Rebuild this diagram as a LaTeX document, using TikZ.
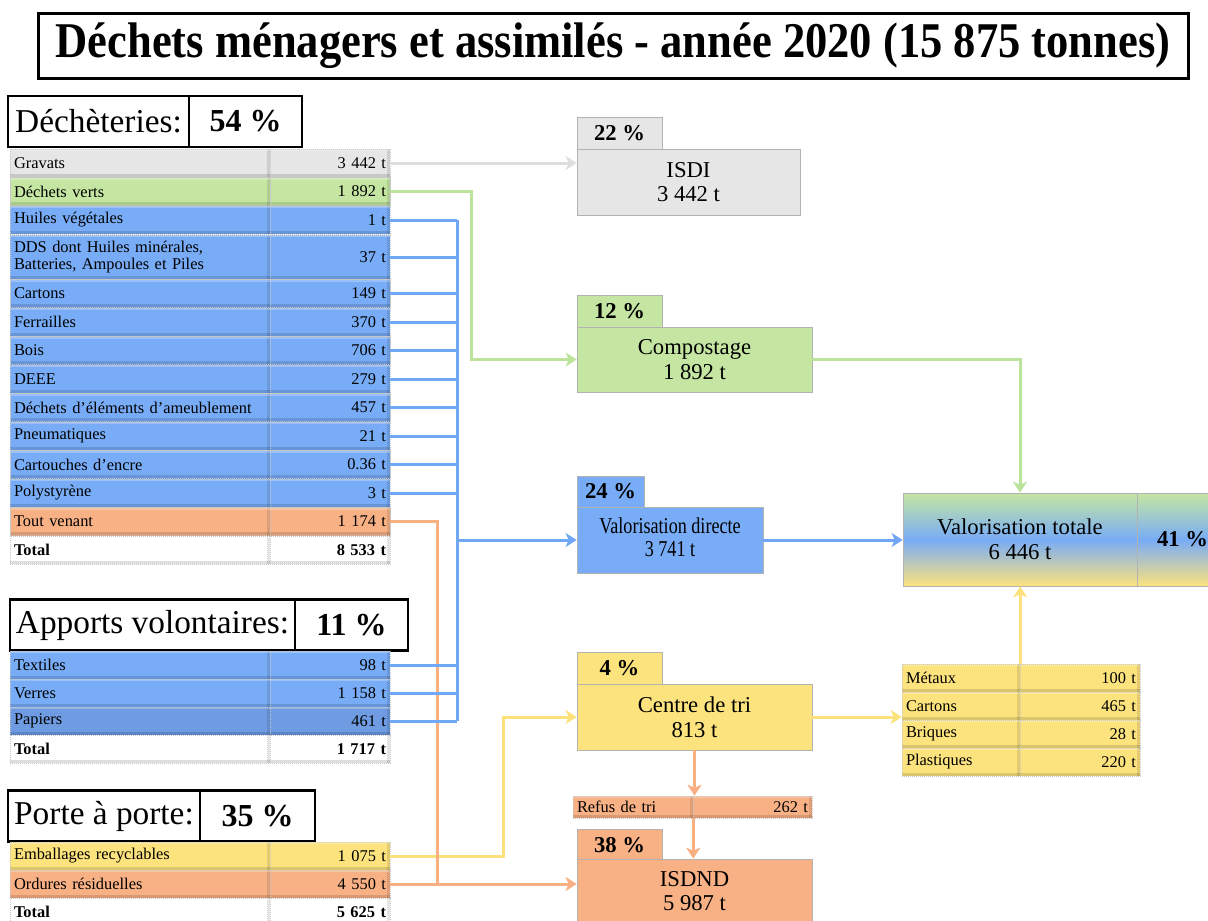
\documentclass[tikz,border=0pt]{standalone}
\usepackage{fontspec}
\setmainfont{Liberation Serif}
\usetikzlibrary{arrows.meta}
\newdimen\px \px=0.75pt
\definecolor{cgray}{HTML}{E6E6E6}
\definecolor{cgreen}{HTML}{C5E6A2}
\definecolor{cblue}{HTML}{78ACF6}
\definecolor{cblued}{HTML}{6E9BE2}
\definecolor{corange}{HTML}{F8B185}
\definecolor{cyellow}{HTML}{FCE37E}
\definecolor{lgray}{HTML}{DEDEDE}
\definecolor{lgreen}{HTML}{BCE39A}
\definecolor{lblue}{HTML}{70A8F5}
\definecolor{lorange}{HTML}{F8B083}
\definecolor{lyellow}{HTML}{FDE27C}
\newcommand\tabf{\fontsize{12.3}{12.3}\selectfont}
\newcommand\boxf{\fontsize{17}{18.5}\selectfont}
\newcommand\hdrf{\fontsize{25}{27}\selectfont}
\newcommand\hdrpf{\fontsize{24}{27}\selectfont\bfseries}
\newcommand\pctf{\fontsize{17}{19}\selectfont\bfseries}
\newcommand\trow[9]{%
 \pgfmathsetmacro\wL{#3-#2}\pgfmathsetmacro\wR{#4-#3}%
 \pgfmathsetmacro\tL{#3-#2-8}\pgfmathsetmacro\tR{#4-#3-8}%
 \node[cell, fill=#7, minimum width=\wL\px, minimum height=#6\px, text width=\tL\px, align=left] (#1L) at ({(#2+#3)/2},#5+1) {#8};
 \node[cell, fill=#7, minimum width=\wR\px, minimum height=#6\px, text width=\tR\px, align=right] (#1R) at ({(#3+#4)/2},#5+1) {#9};}
\begin{document}
\begin{tikzpicture}[x=0.75pt,y=-0.75pt,
 cell/.style={rectangle, inner xsep=3pt, inner ysep=0pt, font=\tabf, draw=black!22, dash pattern=on 0.9pt off 0.6pt, line width=0.4pt,
   path picture={
    \fill[black, opacity=0.13] (path picture bounding box.south west) rectangle ([yshift=2.6pt]path picture bounding box.south east);
    \fill[black, opacity=0.10] ([xshift=-2.2pt]path picture bounding box.south east) rectangle (path picture bounding box.north east);
    \fill[white, opacity=0.25] (path picture bounding box.north west) rectangle ([yshift=-1.5pt]path picture bounding box.north east);}},
 hdr/.style={draw=black, line width=1.6pt, inner sep=0pt, font=\hdrf, minimum height=38.25pt},
 tabbox/.style={draw=black!30, line width=0.5pt, inner sep=0pt, font=\pctf, minimum width=63.75pt, minimum height=24pt},
 dbox/.style={draw=black!30, line width=0.5pt, inner sep=0pt, font=\boxf, align=center},
 gradbox/.style={dbox, top color=cgreen, bottom color=cyellow, middle color=cblue},
 conn/.style={line width=2.25pt},
 arr/.style={-{Stealth[length=8.25pt, width=10.5pt, inset=2.25pt]}}]
\useasboundingbox (0,0) rectangle (1208,921);

% title
\node[draw, line width=2.25pt, minimum width=862.5pt, minimum height=48.75pt, inner sep=0pt] (title) at (613,45.5)
 {\resizebox{836pt}{\height}{\fontsize{37.5}{40}\selectfont\bfseries Déchets ménagers et assimilés - année 2020 (15 875 tonnes)}};

% Decheteries
\node[hdr, minimum width=135.75pt] (dechH) at (98.5,121.5) {Déchèteries:};
\node[hdr, minimum width=84.75pt, font=\hdrpf] (dechP) at (245.5,121.5) {54 \%};
\trow{grav}{10}{270}{390}{162}{28}{cgray}{Gravats}{3 442 t}
\trow{verts}{10}{270}{390}{190.5}{28}{cgreen}{Déchets verts}{1 892 t}
\trow{huil}{10}{270}{390}{219}{28}{cblue}{Huiles végétales}{1 t}
\trow{dds}{10}{270}{390}{256}{44}{cblue}{DDS dont Huiles minérales,\\Batteries, Ampoules et Piles}{37 t}
\trow{cart}{10}{270}{390}{292.5}{28}{cblue}{Cartons}{149 t}
\trow{ferr}{10}{270}{390}{321}{28}{cblue}{Ferrailles}{370 t}
\trow{bois}{10}{270}{390}{349.5}{28}{cblue}{Bois}{706 t}
\trow{deee}{10}{270}{390}{378}{28}{cblue}{DEEE}{279 t}
\trow{meub}{10}{270}{390}{406.5}{28}{cblue}{Déchets d’éléments d’ameublement}{457 t}
\trow{pneu}{10}{270}{390}{435}{28}{cblue}{Pneumatiques}{21 t}
\trow{encr}{10}{270}{390}{463.5}{28}{cblue}{Cartouches d’encre}{0.36 t}
\trow{poly}{10}{270}{390}{492}{28}{cblue}{Polystyrène}{3 t}
\trow{tout}{10}{270}{390}{520.5}{28}{corange}{Tout venant}{1 174 t}
\trow{dtot}{10}{270}{390}{549}{28}{white}{\textbf{Total}}{\textbf{8 533 t}}

% Apports volontaires
\node[hdr, minimum width=213.75pt] (appH) at (152.5,625) {Apports volontaires:};
\node[hdr, minimum width=84.75pt, font=\hdrpf] (appP) at (351.5,625) {11 \%};
\trow{text}{10}{270}{390}{664}{28}{cblue}{Textiles}{98 t}
\trow{verr}{10}{270}{390}{692}{28}{cblue}{Verres}{1 158 t}
\trow{pap}{10}{270}{390}{720}{28}{cblued}{Papiers}{461 t}
\trow{atot}{10}{270}{390}{748}{28}{white}{\textbf{Total}}{\textbf{1 717 t}}

% Porte a porte
\node[hdr, minimum width=144pt] (ppH) at (104,816) {Porte à porte:};
\node[hdr, minimum width=86.25pt, font=\hdrpf] (ppP) at (257.5,816) {35 \%};
\trow{emb}{10}{270}{390}{855}{28}{cyellow}{Emballages recyclables}{1 075 t}
\trow{ord}{10}{270}{390}{883}{28}{corange}{Ordures résiduelles}{4 550 t}
\trow{ptot}{10}{270}{390}{911}{28}{white}{\textbf{Total}}{\textbf{5 625 t}}

% destinations
\node[tabbox, fill=cgray] (isdiT) at (619.5,133) {22 \%};
\node[dbox, fill=cgray, minimum width=167.25pt, minimum height=49.5pt] (isdi) at (688.5,182) {ISDI\\3 442 t};
\node[tabbox, fill=cgreen] (compT) at (619.5,311) {12 \%};
\node[dbox, fill=cgreen, minimum width=176.25pt, minimum height=48.75pt] (compost) at (694.5,359.5) {Compostage\\1 892 t};
\node[tabbox, fill=cblue, minimum width=50.25pt, minimum height=23.25pt] (valdirT) at (610.5,491.5) {24 \%};
\node[dbox, fill=cblue, minimum width=139.5pt, minimum height=49.5pt] (valdir) at (670,540)
 {\scalebox{0.8}[1]{\begin{tabular}{@{}c@{}}Valorisation directe\\[-1.2pt]3 741 t\end{tabular}}};
\node[tabbox, fill=cyellow] (triT) at (619.5,668) {4 \%};
\node[dbox, fill=cyellow, minimum width=176.25pt, minimum height=49.5pt] (tri) at (694.5,717) {Centre de tri\\813 t};
\node[tabbox, fill=corange] (isdndT) at (619.5,845) {38 \%};
\node[dbox, fill=corange, minimum width=176.25pt, minimum height=48pt] (isdnd) at (694.5,891) {ISDND\\5 987 t};
\trow{refus}{573}{693}{812}{806}{22}{corange}{Refus de tri}{262 t}

\node[gradbox, minimum width=175.5pt, minimum height=69.75pt] (valtot) at (1020,539.5) {Valorisation totale\\6 446 t};
\node[gradbox, minimum width=68.25pt, minimum height=69.75pt, font=\pctf] (valtotP) at (1182.5,539.5) {41 \%};

\trow{met}{902}{1020}{1140}{677}{28}{cyellow}{Métaux}{100 t}
\trow{mcart}{902}{1020}{1140}{705}{28}{cyellow}{Cartons}{465 t}
\trow{briq}{902}{1020}{1140}{733}{28}{cyellow}{Briques}{28 t}
\trow{plas}{902}{1020}{1140}{761}{28}{cyellow}{Plastiques}{220 t}

% connectors
\coordinate (bus) at (457,537);
\coordinate (obus) at (437,883);
\draw[conn, lyellow, arr] (embR.east) -- ++(113,0) |- (tri.west);
\draw[conn, lorange] (toutR.east) -| (obus);
\draw[conn, lorange, arr] (ordR.east) -- (ordR.east -| isdnd.west);
\foreach \r in {huil,dds,cart,ferr,bois,deee,meub,pneu,encr,poly,text,verr,pap}
  \draw[conn, lblue] (\r R.east) -- (\r R.east -| bus);
\draw[conn, lblue] (huilR.east -| bus) -- (papR.east -| bus);
\draw[conn, lblue, arr] (bus |- valdir.west) -- (valdir.west);
\draw[conn, lgray, arr] (gravR.east) -- (gravR.east -| isdi.west);
\draw[conn, lgreen, arr] (vertsR.east) -- ++(81,0) |- (compost.west);
\draw[conn, lgreen, arr] (compost.east) -| (valtot.north);
\draw[conn, lblue, arr] (valdir.east) -- (valdir.east -| valtot.west);
\draw[conn, lyellow, arr] (tri.east) -- (tri.east -| metL.west);
\draw[conn, lyellow, arr] (metL.north east) -- (metL.north east |- valtot.south);
\draw[conn, lorange, arr] (tri.south) -- (tri.south |- refusL.north);
\draw[conn, lorange, arr] (refusL.south east) -- (refusL.south east |- isdnd.north);
\end{tikzpicture}
\end{document}
